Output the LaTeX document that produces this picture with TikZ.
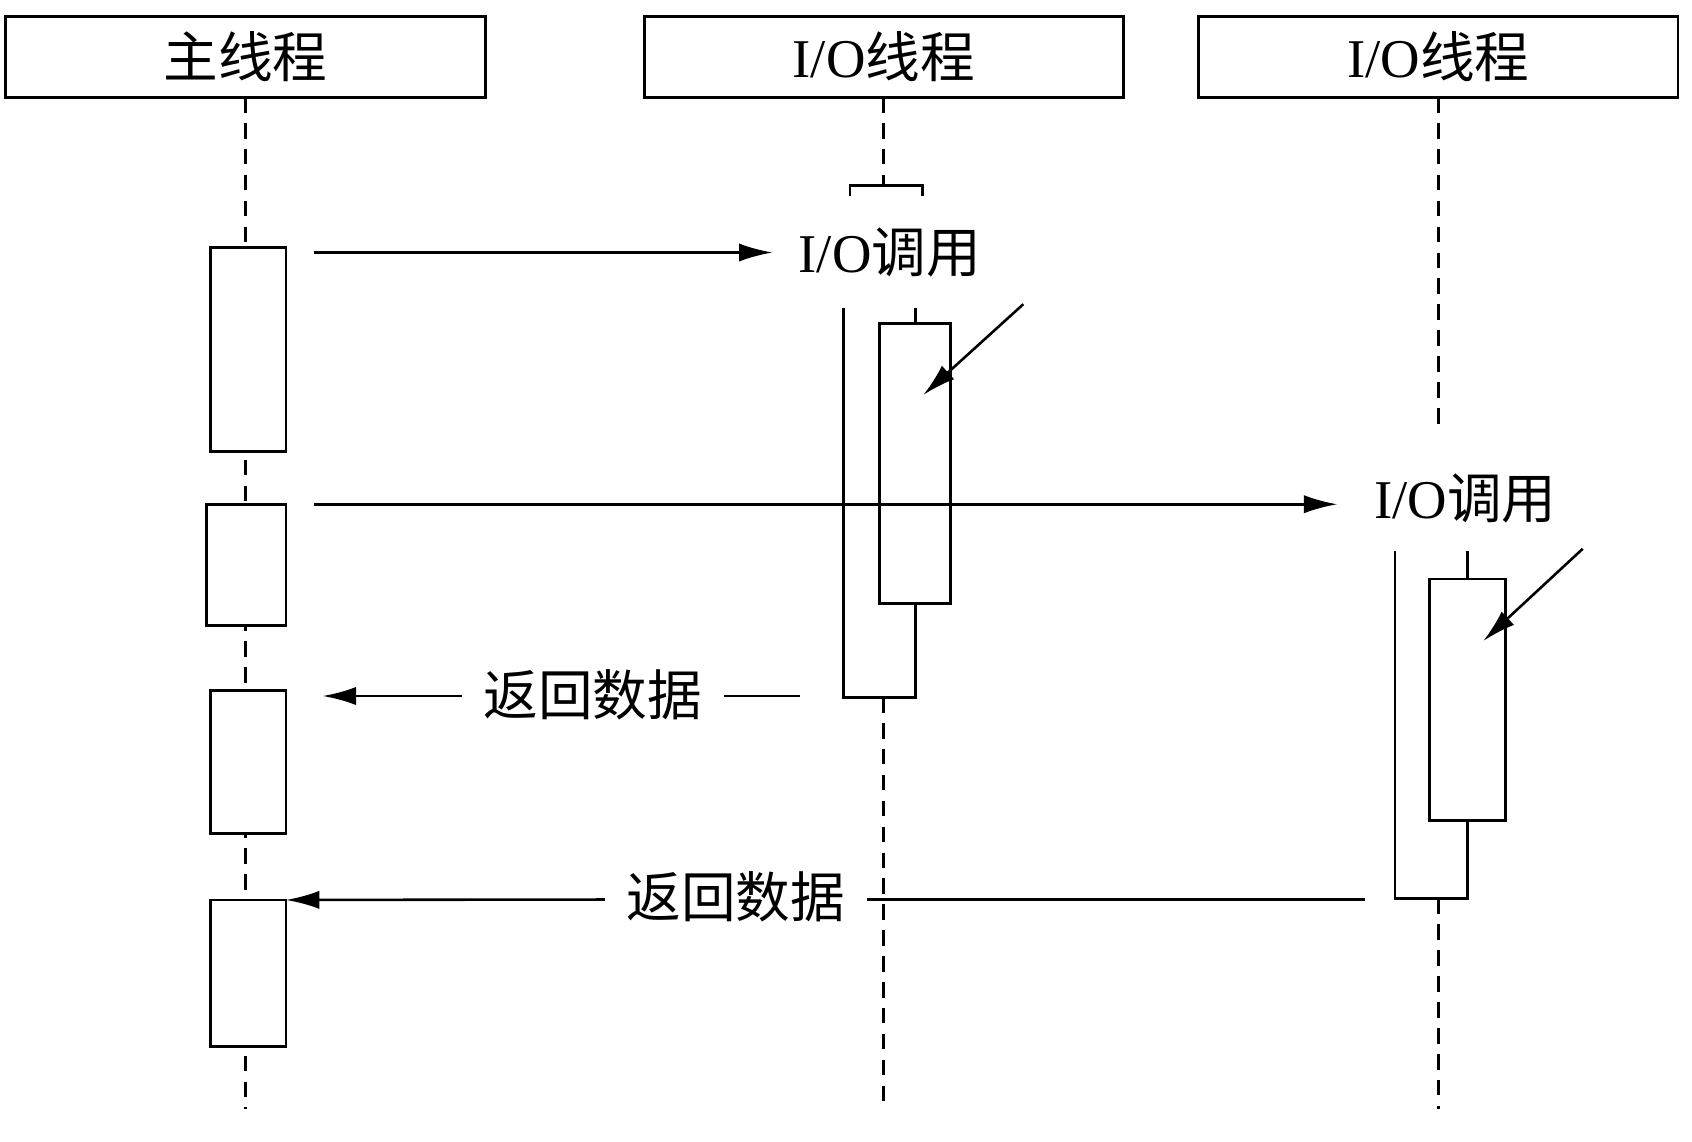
\documentclass[tikz,border=0pt]{standalone}
\usepackage{fontspec}
\setmainfont{Liberation Serif}
\newfontfamily\cjk{Noto Sans CJK SC}
\usetikzlibrary{arrows.meta}

\begin{document}
\begin{tikzpicture}[x=0.025cm,y=-0.025cm,
  head/.style={draw,line width=1.9pt,minimum width=11.1cm,minimum height=1.875cm,inner sep=0pt,outer sep=0pt,font=\fontsize{36}{40}\selectfont},
  bar/.style={draw,fill=white,line width=1.9pt,inner sep=0pt,outer sep=0pt},
  lbl/.style={font=\fontsize{36}{40}\selectfont,inner ysep=0pt,inner xsep=0.5cm},
  life/.style={line width=1.7pt,dash pattern=on 0.36cm off 0.24cm},
  wire/.style={line width=1.9pt},
  msg/.style={line width=1.7pt,-{Latex[length=22pt,width=12pt]}}]
  \useasboundingbox (0,0) rectangle (1568,1058);
  \node[head] (mainhead) at (227.5,52.5) {\cjk 主线程};
  \node[head] (iohead1) at (819,52.5) {I/O{\cjk 线程}};
  \node[head] (iohead2) at (1333,52.5) {I/O{\cjk 线程}};
  \coordinate (mainend) at (227.5,1028);
  \coordinate (io1top) at (819,171.6);
  \coordinate (io1open) at (782,285.5);
  \coordinate (io1ret) at (819,646);
  \coordinate (io1end) at (819,1028);
  \coordinate (io2stop) at (1333,402);
  \coordinate (io2open) at (1292.8,511);
  \coordinate (io2ret) at (1333,832.7);
  \coordinate (io2end) at (1333,1028);
  \draw[life] (mainhead.south) -- (mainend);
  \draw[life] (iohead1.south) -- (io1top);
  \draw[life] (io1ret) -- (io1end);
  \draw[life] (iohead2.south) -- (io2stop);
  \draw[life] (io2ret) -- (io2end);
  \draw[wire] (io1top) ++(-31.3,10) |- ++(67.3,-10) -- ++(0,10);
  \node[bar,minimum width=1.75cm,minimum height=4.72cm] (m1) at (230,323.9) {};
  \node[bar,minimum width=1.85cm,minimum height=2.8cm] (m2) at (228,523.4) {};
  \node[bar,minimum width=1.75cm,minimum height=3.3cm] (m3) at (230,706) {};
  \node[bar,minimum width=1.75cm,minimum height=3.4cm] (m4) at (230,902) {};
  \node[bar,minimum width=1.64cm,minimum height=6.49cm] (io1box) at (848.25,429.5) {};
  \node[bar,minimum width=1.76cm,minimum height=5.585cm] (io2box) at (1359.75,648.3) {};
  \draw[wire] (io1open) |- (io1ret) -| (io1box.south);
  \draw[wire] (io1box.north) -- ++(0,-14.2);
  \draw[wire] (io2open) |- (io2ret) -| (io2box.south);
  \draw[wire] (io2box.north) -- ++(0,-25.6);
  \node[lbl,inner xsep=0.6cm] (call1) at (824.5,234) {I/O{\cjk 调用}};
  \node[lbl,inner xsep=0.85cm] (call2) at (1358,461.5) {I/O{\cjk 调用}};
  \node[lbl] (ret1) at (549.5,644) {\cjk 返回数据};
  \node[lbl] (ret2) at (682,831) {\cjk 返回数据};
  \coordinate (c1from) at (291,234);
  \coordinate (c2from) at (291,467.3);
  \coordinate (r1from) at (741,645);
  \coordinate (r1to) at (299,645);
  \coordinate (r2from) at (1265,833.6);
  \coordinate (p1from) at (948.3,281.9);
  \coordinate (p1to) at (855.6,366);
  \coordinate (p2from) at (1466.7,508.6);
  \coordinate (p2to) at (1374.6,594);
  \draw[msg] (c1from) -- (call1.west);
  \draw[msg] (c2from) -- (c2from -| call2.west);
  \draw[wire] (r1from) -- (r1from -| ret1.east);
  \draw[msg] (r1from -| ret1.west) -- (r1to);
  \draw[wire] (r2from) -- (r2from -| ret2.east);
  \draw[msg] (r2from -| ret2.west) -- (m4.north east);
  \draw[msg] (p1from) -- (p1to);
  \draw[msg] (p2from) -- (p2to);
\end{tikzpicture}
\end{document}
